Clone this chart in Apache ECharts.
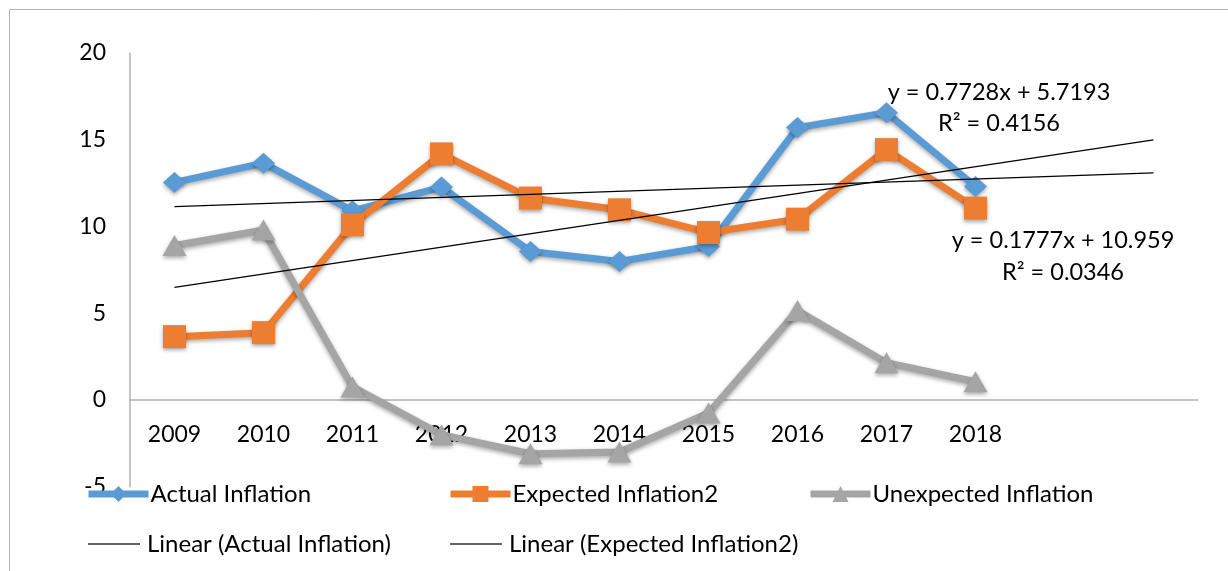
<!DOCTYPE html>
<html>
<head>
<meta charset="utf-8">
<script src="https://cdn.jsdelivr.net/npm/echarts@6/dist/echarts.min.js"></script>
<style>html,body{margin:0;padding:0;background:#fff;}#c{width:1228px;height:571px;}</style>
</head>
<body>
<div id="c"></div>
<script>
var categories = ['2009','2010','2011','2012','2013','2014','2015','2016','2017','2018','',''];
var actualInflation = [12.54, 13.65, 10.9, 12.27, 8.56, 7.98, 8.85, 15.7, 16.56, 12.3];
var expectedInflation2 = [3.65, 3.88, 10.1, 14.18, 11.64, 10.96, 9.65, 10.42, 14.43, 11.06];
var unexpectedInflation = [8.9, 9.8, 0.75, -2.0, -3.1, -3.0, -0.75, 5.15, 2.15, 1.05];
// trend line endpoints (first and last category), straight lines between them
var linearActual = [11.14, null, null, null, null, null, null, null, null, null, null, 13.09];
var linearExpected = [6.49, null, null, null, null, null, null, null, null, null, null, 14.99];
var yTicks = {min: -5, max: 20, interval: 5};
var eqExpected = 'y = 0.7728x + 5.7193\nR² = 0.4156';
var eqActual = 'y = 0.1777x + 10.959\nR² = 0.0346';

var FONT = 'Lato, "Open Sans", sans-serif';
var shadow = {shadowColor: 'rgba(0,0,0,0.35)', shadowBlur: 4, shadowOffsetY: 2};

function legendAt(name, left, top) {
  return {
    data: [name], left: left, top: top, padding: 0, itemWidth: 60, itemHeight: 20, itemGap: 0,
    lineStyle: {width: 7},
    textStyle: {fontFamily: FONT, fontSize: 24, color: '#000', padding: [0,0,0,-3]},
    selectedMode: false
  };
}
function legendLinear(name, left, top) {
  return {
    data: [{name: name, icon: 'rect'}], left: left, top: top, padding: 0, itemWidth: 52, itemHeight: 1.4, itemGap: 0,
    itemStyle: {color: '#333'},
    textStyle: {fontFamily: FONT, fontSize: 24, color: '#000', padding: [0,0,0,2]},
    selectedMode: false
  };
}

var chart = echarts.init(document.getElementById('c'), null, {renderer: 'canvas'});
chart.setOption({
  animation: false,
  backgroundColor: '#fff',
  graphic: [
    {type: 'rect', shape: {x: 9.5, y: 9.5, width: 1300, height: 700}, style: {fill: 'none', stroke: '#b4b4b4', lineWidth: 1}, silent: true, z: -10},
    {type: 'text', x: 999, y: 76.5, style: {text: eqExpected, fontFamily: FONT, fontSize: 23.5, fill: '#000', align: 'center', verticalAlign: 'top', lineHeight: 31}, z: 100},
    {type: 'text', x: 1063, y: 224, style: {text: eqActual, fontFamily: FONT, fontSize: 23.5, fill: '#000', align: 'center', verticalAlign: 'top', lineHeight: 32}, z: 100}
  ],
  legend: [
    legendAt('Actual Inflation', 85, 482),
    legendAt('Expected Inflation2', 447, 482),
    legendAt('Unexpected Inflation', 807, 482),
    legendLinear('Linear (Actual Inflation)', 88, 532),
    legendLinear('Linear (Expected Inflation2)', 450, 532)
  ],
  grid: {left: 130, right: 30, top: 53, bottom: 84.3, containLabel: false},
  xAxis: {
    type: 'category', data: categories, boundaryGap: true,
    offset: -86.7,
    axisLine: {onZero: false, lineStyle: {color: '#b0b0b0', width: 1.5}},
    axisTick: {show: false},
    axisLabel: {fontFamily: FONT, fontSize: 23, color: '#000', margin: 23, interval: 0}
  },
  yAxis: {
    type: 'value', min: yTicks.min, max: yTicks.max, interval: yTicks.interval,
    axisLine: {show: true, lineStyle: {color: '#b0b0b0', width: 1.5}},
    axisTick: {show: false},
    splitLine: {show: false},
    axisLabel: {fontFamily: FONT, fontSize: 23, color: '#000', margin: 24}
  },
  series: [
    {name: 'Actual Inflation', type: 'line', data: actualInflation, symbol: 'diamond', symbolSize: [23, 21],
     lineStyle: Object.assign({color: '#5B9BD5', width: 7}, shadow),
     itemStyle: Object.assign({color: '#5B9BD5'}, shadow), z: 2},
    {name: 'Expected Inflation2', type: 'line', data: expectedInflation2, symbol: 'rect', symbolSize: 23,
     lineStyle: Object.assign({color: '#ED7D31', width: 7}, shadow),
     itemStyle: Object.assign({color: '#ED7D31'}, shadow), z: 3},
    {name: 'Unexpected Inflation', type: 'line', data: unexpectedInflation, symbol: 'triangle', symbolSize: [24, 21],
     lineStyle: Object.assign({color: '#A5A5A5', width: 7}, shadow),
     itemStyle: Object.assign({color: '#A5A5A5'}, shadow), z: 4},
    {name: 'Linear (Actual Inflation)', type: 'line', data: linearActual, connectNulls: true, showSymbol: false, symbol: 'none',
     lineStyle: {color: '#000', width: 1.2}, itemStyle: {color: '#333'}, z: 5},
    {name: 'Linear (Expected Inflation2)', type: 'line', data: linearExpected, connectNulls: true, showSymbol: false, symbol: 'none',
     lineStyle: {color: '#000', width: 1.2}, itemStyle: {color: '#333'}, z: 5}
  ]
});
</script>
</body>
</html>
